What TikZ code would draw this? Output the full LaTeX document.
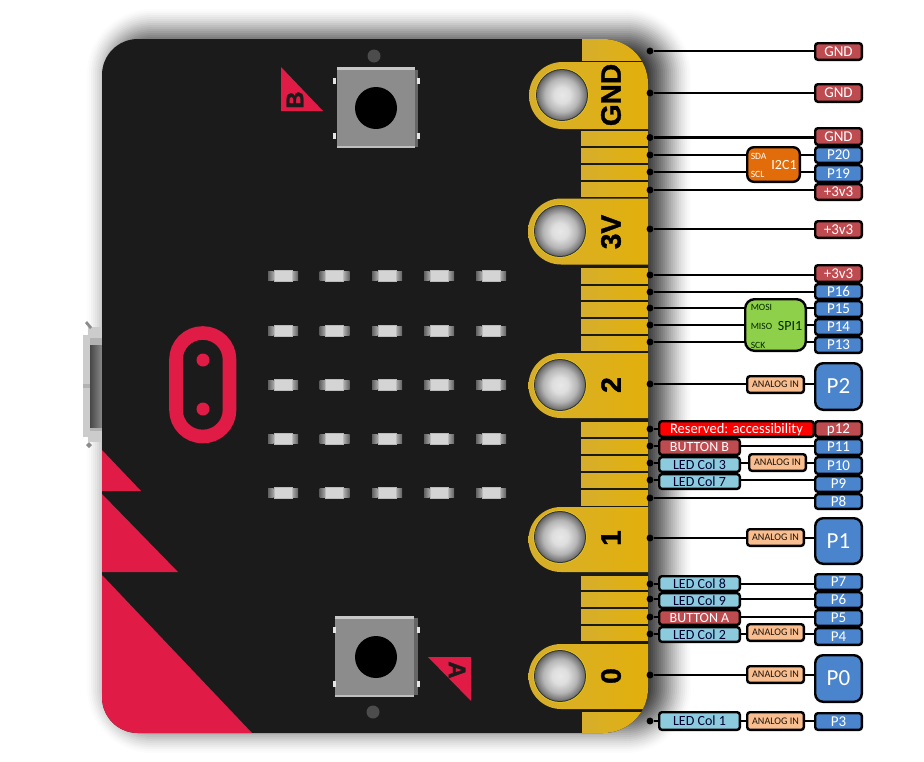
\documentclass[tikz,border=0pt]{standalone}
\usepackage{fontspec}
\setmainfont{Carlito}
\newfontfamily\padfont[BoldFeatures={FakeBold=1.4}]{Liberation Sans}
\definecolor{boardbg}{HTML}{1B1B1B}
\definecolor{crim}{HTML}{E01B45}
\definecolor{goldL}{HTML}{D6AE2C}
\definecolor{goldR}{HTML}{E2B00C}
\definecolor{redlab}{HTML}{BE4B50}
\definecolor{bluelab}{HTML}{4A84CC}
\definecolor{ledlab}{HTML}{8CCBDD}
\definecolor{analab}{HTML}{F9BE90}
\definecolor{i2c}{HTML}{E36C0A}
\definecolor{spi}{HTML}{8FD04A}
\pgfdeclareradialshading{holeball}{\pgfpoint{0bp}{0bp}}{rgb(0bp)=(.91,.91,.91);rgb(8bp)=(.87,.87,.87);rgb(17bp)=(.71,.71,.71);rgb(23bp)=(.49,.49,.49);rgb(25bp)=(.39,.39,.39);rgb(50bp)=(.39,.39,.39)}
\newcommand\tf[2]{{\fontsize{#1}{#1}\selectfont\rule{0pt}{.644em}\smash{#2}}}
% name, style, x1, y1, x2, y2, text
\newcommand\lab[7]{%
  \pgfmathsetmacro\lw{(#5-#3-2.4)*.75}%
  \pgfmathsetmacro\lh{(#6-#4-2.4)*.75}%
  \pgfmathsetmacro\lx{(#3+#5)/2}%
  \pgfmathsetmacro\ly{(#4+#6)/2}%
  \node[labbox,#2,minimum width=\lw pt,minimum height=\lh pt] (#1) at (\lx,\ly) {#7};}
\newcommand\boardpath{(138,39) -- (603,39) .. controls (628,39) and (648,59) .. (648,84) -- (648,688) .. controls (648,713) and (628,733) .. (603,733) -- (138,733) .. controls (118,733) and (102,717) .. (102,697) -- (102,75) .. controls (102,55) and (118,39) .. (138,39) -- cycle}
\newcommand\bigpad[3]{%
  \pgfmathsetmacro\pt{#2-#3}\pgfmathsetmacro\pb{#2+#3}%
  \shade[left color=goldL,right color=goldR] (#1,\pt) -- (648,\pt) -- (648,\pb) -- (#1,\pb) arc[start angle=90,end angle=270,radius=#3] -- cycle;}
\newcommand\hole[2]{%
  \fill[goldL!60!yellow] (#1,#2) circle[radius=26.7];
  \fill[black!80] (#1,#2) circle[radius=26];
  \shade[shading=holeball] (#1,#2) circle[radius=25];}
\newcommand\smallpad[2]{\shade[left color=goldL,right color=goldR] (581,#1) rectangle (648,#2);}
\tikzset{
  x=.75pt,y=-.75pt,
  labbox/.style={draw=black,line width=1.8pt,rounded corners=2pt,inner sep=0pt,outer sep=0pt,align=center},
  redbox/.style={fill=redlab,text=white},
  bluebox/.style={fill=bluelab,text=white},
  bigbox/.style={fill=bluelab,text=white,rounded corners=6pt},
  ledbox/.style={fill=ledlab,text=black!80!blue},
  anabox/.style={fill=analab,text=black!85!brown},
  resbox/.style={fill=red,text=white},
  i2cbox/.style={fill=i2c,text=white,rounded corners=5pt},
  spibox/.style={fill=spi,text=black!85!green,rounded corners=7pt},
  pindot/.style={circle,fill=black,minimum size=5.2pt,inner sep=0pt},
  wire/.style={draw=black,line width=1.8pt},
  padtxt/.style={font=\padfont\bfseries\fontsize{21}{21}\selectfont,rotate=90,text=black,inner sep=0pt},
  marktxt/.style={font=\padfont\bfseries\fontsize{18}{18}\selectfont,text=boardbg,inner sep=0pt},
  sub/.style={inner sep=0pt,anchor=west},
}
\begin{document}
\begin{tikzpicture}
\useasboundingbox (0,0) rectangle (924,761);
% shadow
\foreach \d in {25,23,...,-25} {
  \pgfmathsetmacro\xa{112-\d}\pgfmathsetmacro\xb{666+\d}
  \pgfmathsetmacro\ya{34-\d}\pgfmathsetmacro\yb{728+\d}
  \pgfmathsetmacro\rr{max(2,40+\d)*.75}
  \pgfmathsetmacro\oo{.012+.12*(25-\d)/50}
  \fill[black,opacity=\oo,rounded corners=\rr pt] (\xa,\ya) rectangle (\xb,\yb);
}
% USB
\fill[black!30] (88,327) rectangle (104,442);
\fill[black!20] (88,327) rectangle (104,338);
\fill[black!20] (88,431) rectangle (104,442);
\fill[black!20] (83,335) rectangle (90,384);
\fill[black!20] (83,387) rectangle (90,437);
\fill[black!30] (83,384) rectangle (104,388);
\shade[left color=black!72,right color=black!42] (90,345) rectangle (104,427);
\fill[black!45] (85,323) -- (87,321) -- (92,327) -- (90,329) -- cycle;
\fill[black!45] (86,445) -- (89,442) -- (92,445) -- (89,448) -- cycle;
% board
\fill[boardbg] \boardpath;
\begin{scope}
\clip \boardpath;
\fill[crim] (102,450) -- (141,491) -- (102,491) -- cycle;
\fill[crim] (102,494) -- (178,572) -- (102,572) -- cycle;
\fill[crim] (102,575) -- (252,733) -- (102,733) -- cycle;
\shade[left color=goldL,right color=goldR] (582,39) rectangle (648,60);
\shade[left color=goldL,right color=goldR] (582,712) rectangle (648,733);
\bigpad{562.5}{95.5}{33.5}
\bigpad{561}{231.5}{33}
\bigpad{561}{385.5}{32.5}
\bigpad{561}{539.5}{32.5}
\bigpad{561}{676.5}{32.5}
\smallpad{131}{145}\smallpad{148}{162}\smallpad{165}{179}\smallpad{182}{196}
\smallpad{268}{283}\smallpad{286}{299}\smallpad{302}{316}\smallpad{319}{333}\smallpad{336}{350}
\smallpad{422}{436}\smallpad{439}{453}\smallpad{456}{470}\smallpad{473}{487}\smallpad{490}{505}
\smallpad{576}{589}\smallpad{592}{606}\smallpad{609}{623}\smallpad{626}{640}
\end{scope}
\hole{562}{95}\hole{560}{231}\hole{560}{385}\hole{560}{537}\hole{560}{676}
\node[padtxt] (padGND) at (611,95) {GND};
\node[padtxt] (pad3V) at (611,232) {3V};
\node[padtxt] (pad2) at (611,385) {2};
\node[padtxt] (pad1) at (611,538) {1};
\node[padtxt] (pad0) at (611,676) {0};
% logo
\draw[crim,line width=10.2pt,rounded corners=19.9pt] (176,333) rectangle (229.5,436.5);
\fill[crim] (203,360) circle[radius=6.5];
\fill[crim] (203,409) circle[radius=6.5];
% LEDs
\foreach \x in {283,334.5,387,439,491} \foreach \y in {276,331,385,439,493} {
  \shade[left color=black!62,right color=black!35] (\x-15,\y-4.5) rectangle (\x-9.5,\y+4.5);
  \shade[left color=black!35,right color=black!62] (\x+9.5,\y-4.5) rectangle (\x+15,\y+4.5);
  \fill[black!27] (\x-9.5,\y-6) rectangle (\x+9.5,\y+6);
  \fill[black!17] (\x-8.5,\y-5) rectangle (\x+8.5,\y+5);
}
% button B
\fill[black!60] (415,70) rectangle (418,147);
\fill[black!45] (337,67) rectangle (415,148);
\fill[black!22] (337,67) rectangle (415,70);
\fill[black!25] (337,146) rectangle (415,148);
\foreach \x/\y in {333/78,333/133,417/78,417/133} \fill[black!10] (\x,\y) rectangle (\x+2.5,\y+6);
\fill[black] (376,108) circle[radius=21];
\fill[black!70] (374,56) circle[radius=6.5];
\fill[crim] (281,67) -- (323,111) -- (281,111) -- cycle;
\node[marktxt,rotate=90] (markB) at (295,100) {B};
% button A
\fill[black!60] (414,618) rectangle (418,695);
\fill[black!45] (335,616) rectangle (414,697);
\fill[black!22] (335,616) rectangle (414,619);
\fill[black!25] (335,695) rectangle (414,697);
\foreach \x/\y in {333/627,333/681,417/627,417/681} \fill[black!10] (\x,\y) rectangle (\x+2.5,\y+6);
\fill[black] (376,657) circle[radius=21];
\fill[black!70] (373,712) circle[radius=6.5];
\fill[crim] (428,657) -- (471,657) -- (471,701) -- cycle;
\node[marktxt,rotate=-90] (markA) at (457,670) {A};
% dots
\foreach \n/\y in {a/51,b/93,c/137.5,d/155,e/172,f/190,g/229,h/275,i/292,j/308,k/325,l/342,m/384,n/429,o/446,p/463,q/480,r/498,s/538,t/584,u/599,v/617,w/634,x/675,y/721}
  \node[pindot] (d\n) at (650,\y) {};
% right labels
\lab{gnd1}{redbox}{814}{42}{863}{61}{\tf{11.25}{GND}}
\lab{gnd2}{redbox}{814}{83}{863}{103}{\tf{11.25}{GND}}
\lab{gnd3}{redbox}{814}{127}{863}{146}{\tf{11.25}{GND}}
\lab{p20}{bluebox}{814}{146}{863}{164}{\tf{11.25}{P20}}
\lab{p19}{bluebox}{814}{164}{863}{183}{\tf{11.25}{P19}}
\lab{v1}{redbox}{814}{183}{863}{201}{\tf{11.25}{+3v3}}
\lab{v2}{redbox}{814}{220}{863}{239}{\tf{11.25}{+3v3}}
\lab{v3}{redbox}{814}{264}{863}{283}{\tf{11.25}{+3v3}}
\lab{p16}{bluebox}{814}{283}{863}{300}{\tf{11.25}{P16}}
\lab{p15}{bluebox}{814}{300}{863}{318}{\tf{11.25}{P15}}
\lab{p14}{bluebox}{814}{318}{863}{336}{\tf{11.25}{P14}}
\lab{p13}{bluebox}{814}{336}{863}{354}{\tf{11.25}{P13}}
\lab{p2}{bigbox}{814}{362}{863}{411}{\tf{17.25}{P2}}
\lab{res}{resbox}{658}{420}{815}{438}{\tf{10.9}{Reserved: accessibility}}
\lab{p12}{redbox}{814}{420}{863}{438}{\tf{11.25}{p12}}
\lab{p11}{bluebox}{814}{438}{863}{456}{\tf{11.25}{P11}}
\lab{p10}{bluebox}{814}{456}{863}{475}{\tf{11.25}{P10}}
\lab{p9}{bluebox}{814}{475}{863}{493}{\tf{11.25}{P9}}
\lab{p8}{bluebox}{814}{493}{863}{510}{\tf{11.25}{P8}}
\lab{p1}{bigbox}{814}{517}{863}{565}{\tf{17.25}{P1}}
\lab{p7}{bluebox}{814}{573}{863}{591}{\tf{11.25}{P7}}
\lab{p6}{bluebox}{814}{591}{863}{609}{\tf{11.25}{P6}}
\lab{p5}{bluebox}{814}{609}{863}{627}{\tf{11.25}{P5}}
\lab{p4}{bluebox}{814}{627}{863}{646}{\tf{11.25}{P4}}
\lab{p0}{bigbox}{814}{654}{863}{703}{\tf{17.25}{P0}}
\lab{p3}{bluebox}{814}{712}{863}{731}{\tf{11.25}{P3}}
% middle labels
\lab{bb}{redbox}{658}{438}{741}{456}{\tf{10.5}{BUTTON B}}
\lab{c3}{ledbox}{658}{456}{741}{473}{\tf{10.5}{LED Col 3}}
\lab{c7}{ledbox}{658}{473}{741}{490}{\tf{10.5}{LED Col 7}}
\lab{c8}{ledbox}{658}{575}{741}{592}{\tf{10.5}{LED Col 8}}
\lab{c9}{ledbox}{658}{592}{741}{609}{\tf{10.5}{LED Col 9}}
\lab{ba}{redbox}{658}{609}{741}{626}{\tf{10.5}{BUTTON A}}
\lab{c2}{ledbox}{658}{626}{741}{643}{\tf{10.5}{LED Col 2}}
\lab{c1}{ledbox}{658}{711}{741}{731}{\tf{10.5}{LED Col 1}}
\lab{an2}{anabox}{746}{375}{805}{394}{\tf{7.6}{ANALOG IN}}
\lab{an10}{anabox}{748}{453}{807}{472}{\tf{7.6}{ANALOG IN}}
\lab{an1}{anabox}{746}{528}{805}{547}{\tf{7.6}{ANALOG IN}}
\lab{an4}{anabox}{746}{623}{805}{642}{\tf{7.6}{ANALOG IN}}
\lab{an0}{anabox}{746}{665}{805}{684}{\tf{7.6}{ANALOG IN}}
\lab{an3}{anabox}{746}{711}{805}{731}{\tf{7.6}{ANALOG IN}}
\lab{i2cb}{i2cbox}{746}{146}{801}{183}{}
\lab{spib}{spibox}{744}{298}{807}{352}{}
\node[sub,text=white] (sda) at (750.5,156) {\tf{7.2}{SDA}};
\node[sub,text=white] (scl) at (750.5,174) {\tf{7.2}{SCL}};
\node[inner sep=0pt,text=white] (i2ct) at (784,165) {\tf{10.5}{I2C1}};
\node[sub,text=black!85!green] (mosi) at (750.5,307) {\tf{7.2}{MOSI}};
\node[sub,text=black!85!green] (miso) at (750.5,326) {\tf{7.2}{MISO}};
\node[sub,text=black!85!green] (sck) at (750.5,345) {\tf{7.2}{SCK}};
\node[inner sep=0pt,text=black!85!green] (spit) at (790,326) {\tf{10.5}{SPI1}};
% connectors
\foreach \a/\b in {da/gnd1,db/gnd2,dc/gnd3,df/v1,dg/v2,dh/v3,di/p16,dr/p8,
                   dd/i2cb,de/i2cb,dj/spib,dk/spib,dl/spib,dm/an2,dn/res,do/bb,dp/c3,dq/c7,
                   ds/an1,dt/c8,du/c9,dv/ba,dw/c2,dx/an0,dy/c1}
  \draw[wire] (\a) -- (\a -| \b.west);
\draw[wire] (dd -| i2cb.east) -- (dd -| p20.west);
\draw[wire] (de -| i2cb.east) -- (de -| p19.west);
\draw[wire] (dj -| spib.east) -- (dj -| p15.west);
\draw[wire] (dk -| spib.east) -- (dk -| p14.west);
\draw[wire] (dl -| spib.east) -- (dl -| p13.west);
\draw[wire] (dm -| an2.east) -- (dm -| p2.west);
\draw[wire] (do -| bb.east) -- (do -| p11.west);
\draw[wire] (dp -| c3.east) -- (dp -| an10.west);
\draw[wire] (dp -| an10.east) -- (dp -| p10.west);
\draw[wire] (dq -| c7.east) -- (dq -| p9.west);
\draw[wire] (ds -| an1.east) -- (ds -| p1.west);
\draw[wire] (dt -| c8.east) -- (dt -| p7.west);
\draw[wire] (du -| c9.east) -- (du -| p6.west);
\draw[wire] (dv -| ba.east) -- (dv -| p5.west);
\draw[wire] (dw -| c2.east) -- (dw -| an4.west);
\draw[wire] (dw -| an4.east) -- (dw -| p4.west);
\draw[wire] (dx -| an0.east) -- (dx -| p0.west);
\draw[wire] (dy -| c1.east) -- (dy -| an3.west);
\draw[wire] (dy -| an3.east) -- (dy -| p3.west);
\end{tikzpicture}
\end{document}
